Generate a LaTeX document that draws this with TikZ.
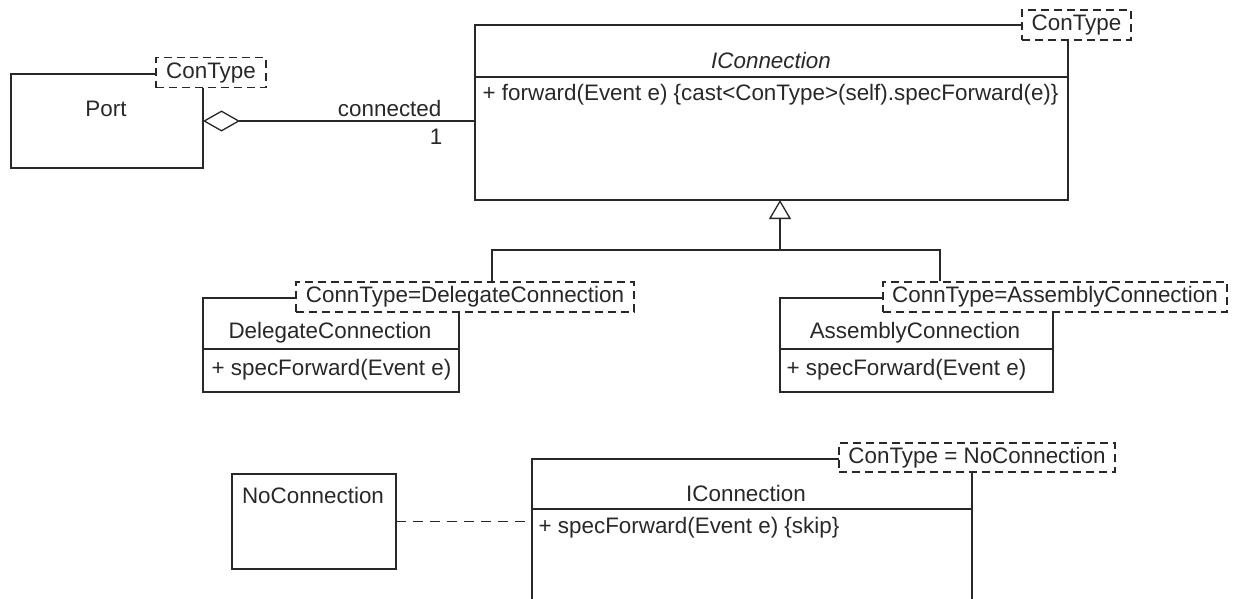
\documentclass[tikz,border=0pt]{standalone}
\usepackage{fontspec}
\setmainfont{Liberation Sans}
\usetikzlibrary{arrows.meta}
\definecolor{umlgray}{RGB}{40,40,40}
\tikzstyle{cls}=[draw, rectangle, inner sep=0pt, outer sep=0pt, anchor=north west]
\tikzstyle{tmpl}=[draw, rectangle, dash pattern=on 8pt off 5pt, fill=white, inner sep=0pt, minimum height=30pt, font=\fontsize{22.4}{26}\selectfont]
\tikzstyle{txt}=[inner sep=0pt, font=\fontsize{22.4}{26}\selectfont]
\tikzstyle{member}=[txt, anchor=west]

\begin{document}
\begin{tikzpicture}[x=1pt, y=-1pt, line width=1.3pt, color=umlgray]
    \useasboundingbox (0,0) rectangle (1242,598);
    \clip (0,0) rectangle (1242,598);

    % class boxes
    \node[cls, minimum width=192pt, minimum height=94pt] (port) at (11,74) {};
    \node[cls, minimum width=593pt, minimum height=175pt] (ic) at (475,25) {};
    \node[cls, minimum width=256pt, minimum height=94pt] (dlg) at (203,298) {};
    \node[cls, minimum width=273pt, minimum height=94pt] (asm) at (780,298) {};
    \node[cls, minimum width=164pt, minimum height=95pt] (noc) at (232,474) {};
    \node[cls, minimum width=440pt, minimum height=200pt] (ic2) at (532,459) {};

    % compartment lines
    \foreach \b/\d in {ic/52, dlg/51, asm/51, ic2/50}
    \draw ([yshift=-\d pt]\b.north west) -- ([yshift=-\d pt]\b.north east);

    % template parameters, on top of the corners
    \node[tmpl, minimum width=110pt] (ptpl) at (211,72.5) {ConType};
    \node[tmpl, minimum width=109pt] (itpl) at (1076.5,25) {ConType};
    \node[tmpl, minimum width=338pt] (dtpl) at (465,297) {ConnType=DelegateConnection};
    \node[tmpl, minimum width=344pt] (atpl) at (1055,297) {ConnType=AssemblyConnection};
    \node[tmpl, minimum width=276pt, minimum height=29pt] (ntpl) at (977,457.5) {ConType = NoConnection};

    % names and members
    \node[txt] (portname) at (106,109) {Port};
    \node[txt, font=\fontsize{22.4}{26}\selectfont\itshape] (icname) at (771,60) {IConnection};
    \node[member] (icfwd) at (482,95) {+ forward(Event e) \{cast<ConType>(self).specForward(e)\}};
    \node[txt] (dlgname) at (330,333) {DelegateConnection};
    \node[member] (dlgfwd) at (211,370) {+ specForward(Event e)};
    \node[txt] (asmname) at (915,333) {AssemblyConnection};
    \node[member] (asmfwd) at (786,370) {+ specForward(Event e)};
    \node[txt] (nocname) at (313,495) {NoConnection};
    \node[txt] (ic2name) at (746,493) {IConnection};
    \node[member] (ic2fwd) at (538,528) {+ specForward(Event e) \{skip\}};

    % aggregation
    \draw[{Diamond[open,length=37pt,width=21pt]}-] (port.east) -- (port.east -| ic.west);
    \node[txt, anchor=east] (connlbl) at (442,108) {connected};
    \node[txt] (multlbl) at (436,137) {1};

    % generalization
    \coordinate (gjoin) at (780,250);
    \coordinate (djoin) at (492,250);
    \coordinate (ajoin) at (940,250);
    \draw[-{Triangle[open,length=19pt,width=22pt]}] (gjoin) -- (gjoin |- ic.south);
    \draw (djoin |- dtpl.north) -- (djoin) -- (ajoin) -- (ajoin |- atpl.north);

    % dependency
    \draw[dash pattern=on 10pt off 7pt] (noc.east) -- (noc.east -| ic2.west);
\end{tikzpicture}
\end{document}
